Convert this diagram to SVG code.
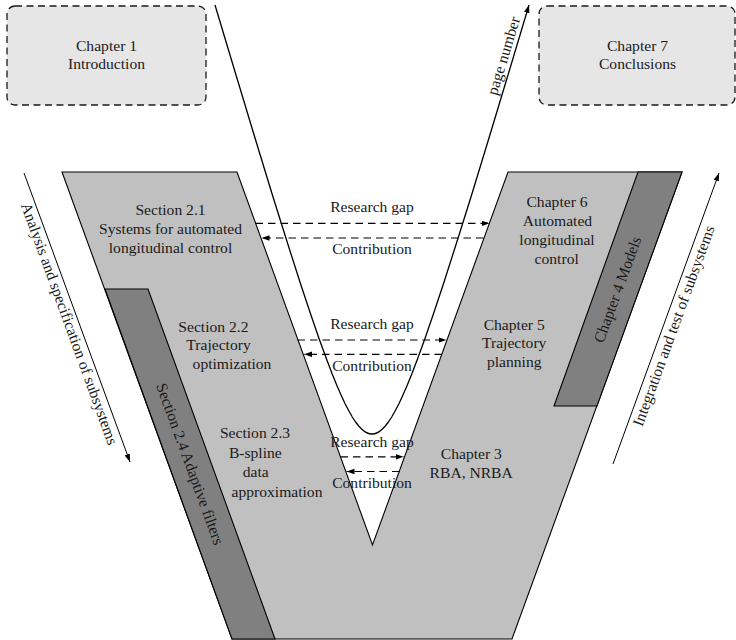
<svg xmlns="http://www.w3.org/2000/svg" width="736" height="640" viewBox="0 0 736 640">
<defs>
<style>
text { font-family: "Liberation Serif", "Times New Roman", serif; font-size: 15.6px; fill: #1a1a1a; text-anchor: middle; }
.box { fill: #e6e6e6; stroke: #1a1a1a; stroke-width: 1.3; stroke-dasharray: 7 4.5; }
.light { fill: #c0c0c0; stroke: #000; stroke-width: 1.1; }
.dark { fill: #808080; stroke: #000; stroke-width: 1.1; }
.dash { stroke: #000; stroke-width: 1.2; stroke-dasharray: 7.5 5; fill: none; marker-end: url(#ah); }
.axis { stroke: #000; stroke-width: 1; fill: none; marker-end: url(#ah); }
.curve { stroke: #000; stroke-width: 1.3; fill: none; stroke-linejoin: round; marker-end: url(#ah); }
</style>
<marker id="ah" markerUnits="userSpaceOnUse" markerWidth="10" markerHeight="8" refX="8" refY="2.75" orient="auto"><path d="M0,0 L8,2.75 L0,5.5 Z" fill="#000"/></marker>
</defs>
<rect width="736" height="640" fill="#fff"/>

<g id="chapter-1">
<rect class="box" x="7" y="6" width="199" height="99" rx="8"/>
<text x="106.5" y="50.7">Chapter 1</text>
<text x="106.5" y="69.3">Introduction</text>
</g>
<g id="chapter-7">
<rect class="box" x="539" y="6" width="196" height="99" rx="8"/>
<text x="637.5" y="50.7">Chapter 7</text>
<text x="637.5" y="69.3">Conclusions</text>
</g>

<g id="v-model">
<path class="light" d="M62,172 L237,172 L372.5,545 L508,172 L682,172 L512,639 L232,639 Z"/>
</g>
<g id="section-2-4">
<path class="dark" d="M105,289 L148,289 L275,639 L232,639 Z"/>
<text transform="translate(185.2,465.7) rotate(70)">Section 2.4 Adaptive filters</text>
</g>
<g id="chapter-4">
<path class="dark" d="M638,172 L682,172 L597,406 L554,406 Z"/>
<text transform="translate(622.4,291.2) rotate(-70)">Chapter 4 Models</text>
</g>
<g id="section-2-1">
<text x="170.5" y="215">Section 2.1</text>
<text x="170.5" y="234">Systems for automated</text>
<text x="170.5" y="253">longitudinal control</text>
</g>
<g id="section-2-2">
<text x="213.4" y="331.5">Section 2.2</text>
<text x="218.5" y="350">Trajectory</text>
<text x="232" y="369">optimization</text>
</g>
<g id="section-2-3">
<text x="255" y="438.3">Section 2.3</text>
<text x="255.3" y="457.5">B-spline</text>
<text x="255.7" y="477">data</text>
<text x="277" y="496.7">approximation</text>
</g>
<g id="chapter-6">
<text x="557" y="206.7">Chapter 6</text>
<text x="557.5" y="225.7">Automated</text>
<text x="557" y="245">longitudinal</text>
<text x="556.7" y="263.5">control</text>
</g>
<g id="chapter-5">
<text x="514.2" y="330">Chapter 5</text>
<text x="514.2" y="348.3">Trajectory</text>
<text x="514.2" y="366.5">planning</text>
</g>
<g id="chapter-3">
<text x="471.3" y="459.3">Chapter 3</text>
<text x="471.2" y="478.3">RBA, NRBA</text>
</g>

<g id="connectors">
<path class="curve" d="M215,5 L235.7,74 L253.8,134 L272.1,194 L287.8,244 L300.6,284 L310.6,314 L319.2,339 L326.5,359 L332.2,374 L337.1,386 L341.5,396 L345.2,404 L348.9,411 L352.3,417 L355.6,422 L358.7,426 L361.6,429 Q372,439 382.4,429 L385.3,426 L388.4,422 L391.7,417 L395.1,411 L398.8,404 L402.5,396 L406.9,386 L411.8,374 L417.5,359 L424.8,339 L433.4,314 L443.4,284 L456.2,244 L471.9,194 L490.2,134 L508.3,74 L529,5"/>
<text transform="translate(508.5,57.3) rotate(-73.3)">page number</text>
<path class="axis" d="M24,173 L130,462"/>
<text transform="translate(64.5,325.4) rotate(70)">Analysis and specification of subsystems</text>
<path class="axis" d="M613,464 L719,173"/>
<text transform="translate(678.6,327.6) rotate(-70)">Integration and test of subsystems</text>

<path class="dash" d="M255.5,223.3 H489.5"/>
<path class="dash" d="M483.5,238 H261.5"/>
<text x="372" y="212.3">Research gap</text>
<text x="372" y="254">Contribution</text>

<path class="dash" d="M297.5,340 H446.5"/>
<path class="dash" d="M442,354.3 H304"/>
<text x="372" y="329.3">Research gap</text>
<text x="372" y="371">Contribution</text>

<path class="dash" d="M340.5,456.8 H403.5"/>
<path class="dash" d="M399.5,471.5 H346.5"/>
<text x="372" y="446.7">Research gap</text>
<text x="372" y="487.7">Contribution</text>
</g>
</svg>
